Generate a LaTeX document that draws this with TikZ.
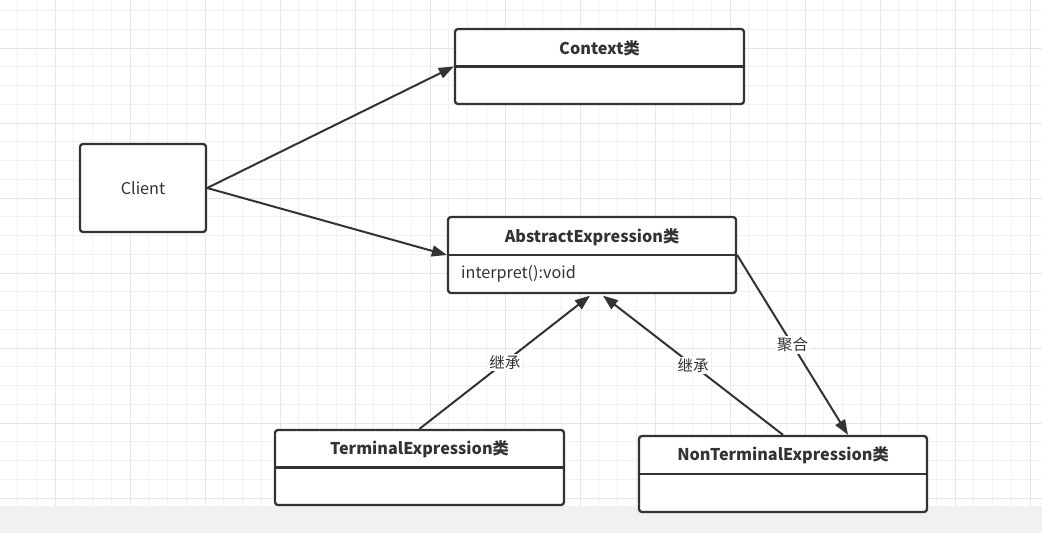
\documentclass[tikz,border=0pt]{standalone}
\usepackage{fontspec}
\setmainfont{Noto Sans CJK SC}
\usetikzlibrary{arrows.meta,calc}
\definecolor{ln}{HTML}{333333}
\definecolor{gmin}{HTML}{F1F1F1}
\definecolor{gmaj}{HTML}{E6E6E6}
\definecolor{strip}{HTML}{F1F1F1}
\begin{document}
\begin{tikzpicture}[x=1pt,y=-1pt,
  cls/.style={draw=ln, line width=2.3pt, rounded corners=3pt, fill=white, inner sep=0pt},
  ttl/.style={text=ln, font=\bfseries\fontsize{16.2}{19}\selectfont, inner sep=0pt},
  txt/.style={text=ln, font=\fontsize{16.2}{19}\selectfont, inner sep=0pt},
  lbl/.style={fill=white, text=ln, inner sep=1.5pt, font=\fontsize{15.5}{18}\selectfont},
  arr/.style={draw=ln, line width=2pt, -{Triangle[length=15pt,width=11pt]}},
  divl/.style={draw=ln, line width=2.3pt}]
\useasboundingbox (0,0) rectangle (1042,533);
\fill[white] (0,0) rectangle (1042,533);
% grid
\foreach \i in {-3,...,53} {\draw[gmin, line width=1pt] ({55+18.75*\i},0) -- ({55+18.75*\i},506);}
\foreach \j in {-3,...,25} {\draw[gmin, line width=1pt] (0,{48+18.75*\j}) -- (1042,{48+18.75*\j});}
\foreach \i in {-1,...,13} {\draw[gmaj, line width=1pt] ({55+75*\i},0) -- ({55+75*\i},506);}
\foreach \j in {-1,...,6} {\draw[gmaj, line width=1pt] (0,{48+75*\j}) -- (1042,{48+75*\j});}
\fill[strip] (0,506) rectangle (1042,533);
% classes
\node[cls, minimum width=289pt, minimum height=75pt] (ctx) at (599.5,66.5) {};
\draw[divl] (ctx.west) -- (ctx.east);
\node[ttl] (ctxt) at (599.5,48) {Context类};

\node[cls, minimum width=126pt, minimum height=88pt] (cli) at (143,188) {};
\node[txt] (clit) at (143,188) {Client};

\node[cls, minimum width=288pt, minimum height=76pt] (abs) at (592,255) {};
\draw[divl] (abs.west) -- (abs.east);
\node[ttl] (abst) at (592,237) {AbstractExpression类};
\node[txt, anchor=west] (absm) at (461,274) {interpret():void};

\node[cls, minimum width=289pt, minimum height=75pt] (ter) at (419.5,467.5) {};
\draw[divl] (ter.west) -- (ter.east);
\node[ttl] (tert) at (419.5,449) {TerminalExpression类};

\node[cls, minimum width=288pt, minimum height=76pt] (nt) at (783,474) {};
\draw[divl] (nt.west) -- (nt.east);
\node[ttl] (ntt) at (783,455.5) {NonTerminalExpression类};

% connectors
\coordinate (absA) at ($(abs.south)+(-2,1.5)$);
\coordinate (absB) at ($(abs.south)+(11,1.5)$);
\coordinate (ntA) at ($(nt.north)+(65,0)$);
\draw[arr] (cli.east) -- (ctx.west);
\draw[arr] (cli.east) -- (abs.west);
\draw[arr] (ter.north) -- node[lbl] {继承} (absA);
\draw[arr] (nt.north) -- node[lbl] {继承} (absB);
\draw[arr] (abs.east) -- node[lbl] {聚合} (ntA);
\end{tikzpicture}
\end{document}
